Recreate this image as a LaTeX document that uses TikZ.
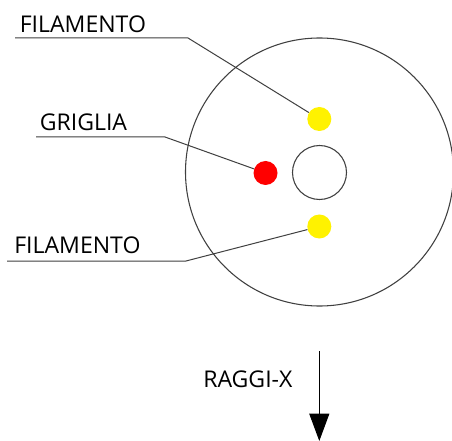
\documentclass[tikz,border=0pt]{standalone}
\usepackage{fontspec}
\setmainfont{Open Sans}
\usetikzlibrary{arrows.meta}
\tikzset{
  lab/.style={inner sep=0pt,anchor=base west,font=\fontsize{17.3pt}{20pt}\selectfont,text=black},
  leader/.style={draw=black!75,line width=0.75pt,line join=miter},
  ring/.style={circle,draw=black!75,line width=0.8pt,inner sep=0pt,minimum size=#1*0.75pt},
  dot/.style={circle,fill=#1,inner sep=0pt,minimum size=18pt}
}
\begin{document}
\begin{tikzpicture}[x=0.75pt,y=-0.75pt]
\useasboundingbox (0,0) rectangle (452,441);
\fill[white] (0,0) rectangle (452,441);
\node[ring=268] (outer) at (319.5,172) {};
\node[ring=54] (inner) at (319.5,172.5) {};
\node[dot=yellow] (f1) at (319.3,119) {};
\node[dot=yellow] (f2) at (319.3,226.5) {};
\node[dot=red] (g) at (265.5,173) {};
\node[lab] (t1) at (19.5,32.7) {FILAMENTO};
\node[lab] (t2) at (39.5,130.7) {GRIGLIA};
\node[lab] (t3) at (14,253) {FILAMENTO};
\node[lab] (t4) at (203,387) {RAGGI-X};
\coordinate (a1) at (15,38);
\coordinate (b1) at (188,38);
\coordinate (a2) at (36,137);
\coordinate (b2) at (165,137);
\coordinate (a3) at (7,261);
\coordinate (b3) at (186,261);
\coordinate (r1) at (319.3,351);
\coordinate (r2) at (319.3,441);
\draw[leader] (a1) -- (b1) -- (f1);
\draw[leader] (a2) -- (b2) -- (g);
\draw[leader] (a3) -- (b3) -- (f2);
\draw[line width=0.8pt,draw=black,-{Triangle[length=20.5pt,width=15pt]}] (r1) -- (r2);
\end{tikzpicture}
\end{document}
